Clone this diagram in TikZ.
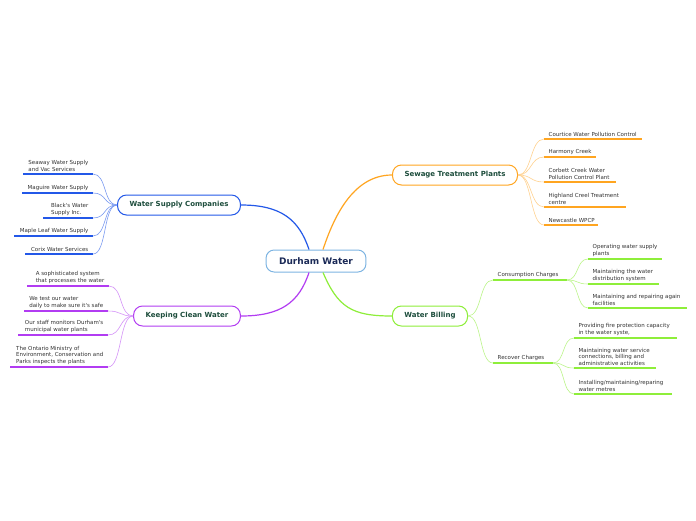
\documentclass[tikz,border=0pt]{standalone}
\usepackage{fontspec}
\newfontfamily\mapfont{DejaVu Sans}
\usepackage{tikz}

\definecolor{hubline}{HTML}{7DB4E2}
\definecolor{hubtext}{HTML}{1B2A57}
\definecolor{branchtext}{HTML}{1D4D3C}
\definecolor{leaftext}{HTML}{333333}
\definecolor{wscblue}{HTML}{2358E8}
\definecolor{stporange}{HTML}{FFA520}
\definecolor{kcwpurple}{HTML}{B23CF2}
\definecolor{wblime}{HTML}{8EEE3A}

\begin{document}
\begin{tikzpicture}[x=1pt, y=-1pt,
  every node/.style={font=\mapfont},
  hub/.style={draw=hubline, line width=1pt, rounded corners=8pt, fill=white,
    font=\mapfont\fontsize{9}{11}\selectfont\bfseries, text=hubtext,
    minimum height=22pt, inner xsep=13pt},
  branch/.style={draw=#1, line width=1pt, rounded corners=9pt, fill=white,
    font=\mapfont\fontsize{7}{9}\selectfont\bfseries, text=branchtext,
    minimum height=20pt, inner xsep=12pt},
  leaf/.style={font=\mapfont\fontsize{5.5}{6.8}\selectfont, text=leaftext,
    align=left, inner xsep=4.5pt, inner ysep=2pt},
  uline/.style={line width=1.8pt},
  twig/.style={line width=0.6pt},
  limb/.style={line width=1.2pt}]
  \useasboundingbox[fill=white] (0,0) rectangle (696,520);

  % Hub and branches
  \node[hub] (dw) at (316,261) {Durham Water};
  \node[branch=wscblue] (wsc) at (179,205) {Water Supply Companies};
  \node[branch=stporange] (stp) at (455,175) {Sewage Treatment Plants};
  \node[branch=kcwpurple] (kcw) at (187,316) {Keeping Clean Water};
  \node[branch=wblime] (wb) at (430,316) {Water Billing};

  \draw[limb, wscblue] ([xshift=-7pt]dw.north) .. controls +(-10,-30) and +(40,0) .. (wsc.east);
  \draw[limb, stporange] ([xshift=7pt]dw.north) .. controls +(10,-30) and +(-40,0) .. (stp.west);
  \draw[limb, kcwpurple] ([xshift=-7pt]dw.south) .. controls +(-10,30) and +(40,0) .. (kcw.east);
  \draw[limb, wblime] ([xshift=7pt]dw.south) .. controls +(15,35) and +(-40,0) .. (wb.west);

  % Water Supply Companies
  \node[leaf, anchor=south east] (ws1) at (93,174) {Seaway Water Supply\\ and Vac Services};
  \node[leaf, anchor=south east] (ws2) at (93,193) {Maguire Water Supply};
  \node[leaf, anchor=south east] (ws3) at (93,218) {Black's Water\\Supply Inc.};
  \node[leaf, anchor=south east] (ws4) at (93,236) {Maple Leaf Water Supply};
  \node[leaf, anchor=south east] (ws5) at (93,254) {Corix Water Services};
  \draw[uline, wscblue] (ws1.south east) -- ++(-70,0);
  \draw[uline, wscblue] (ws2.south east) -- ++(-71,0);
  \draw[uline, wscblue] (ws3.south east) -- ++(-50,0);
  \draw[uline, wscblue] (ws4.south east) -- ++(-79,0);
  \draw[uline, wscblue] (ws5.south east) -- ++(-68,0);
  \foreach \n in {ws1,ws2,ws3,ws4,ws5}
    \draw[twig, wscblue!60] (wsc.west) .. controls +(-14,0) and +(14,0) .. (\n.south east);

  % Keeping Clean Water
  \node[leaf, anchor=south east] (kc1) at (109,286) {A sophisticated system\\that processes the water};
  \node[leaf, anchor=south east] (kc2) at (108,311) {We test our water\\daily to make sure it's safe};
  \node[leaf, anchor=south east] (kc3) at (108,335) {Our staff monitors Durham's\\municipal water plants};
  \node[leaf, anchor=south east] (kc4) at (108,367) {The Ontario Ministry of\\Environment, Conservation and\\Parks inspects the plants};
  \draw[uline, kcwpurple] (kc1.south east) -- ++(-82,0);
  \draw[uline, kcwpurple] (kc2.south east) -- ++(-84,0);
  \draw[uline, kcwpurple] (kc3.south east) -- ++(-90,0);
  \draw[uline, kcwpurple] (kc4.south east) -- ++(-98,0);
  \foreach \n in {kc1,kc2,kc3,kc4}
    \draw[twig, kcwpurple!55] (kcw.west) .. controls +(-14,0) and +(14,0) .. (\n.south east);

  % Sewage Treatment Plants
  \node[leaf, anchor=south west] (sp1) at (544,139) {Courtice Water Pollution Control};
  \node[leaf, anchor=south west] (sp2) at (544,157) {Harmony Creek};
  \node[leaf, anchor=south west] (sp3) at (544,182) {Corbett Creek Water\\ Pollution Control Plant};
  \node[leaf, anchor=south west] (sp4) at (544,207) {Highland Creel Treatment\\centre};
  \node[leaf, anchor=south west] (sp5) at (544,225) {Newcastle WPCP};
  \draw[uline, stporange] (sp1.south west) -- ++(98,0);
  \draw[uline, stporange] (sp2.south west) -- ++(52,0);
  \draw[uline, stporange] (sp3.south west) -- ++(72,0);
  \draw[uline, stporange] (sp4.south west) -- ++(82,0);
  \draw[uline, stporange] (sp5.south west) -- ++(54,0);
  \foreach \n in {sp1,sp2,sp3,sp4,sp5}
    \draw[twig, stporange!50] (stp.east) .. controls +(14,0) and +(-14,0) .. (\n.south west);

  % Water Billing
  \node[leaf, anchor=south west] (cc) at (493,280) {Consumption Charges};
  \node[leaf, anchor=south west] (rc) at (493,363) {Recover Charges};
  \draw[uline, wblime] (cc.south west) -- ++(74,0) coordinate (cce);
  \draw[uline, wblime] (rc.south west) -- ++(60,0) coordinate (rce);
  \foreach \n in {cc,rc}
    \draw[twig, wblime!60] (wb.east) .. controls +(14,0) and +(-14,0) .. (\n.south west);

  \node[leaf, anchor=south west] (cc1) at (588,259) {Operating water supply\\ plants};
  \node[leaf, anchor=south west] (cc2) at (588,284) {Maintaining the water\\distribution system};
  \node[leaf, anchor=south west] (cc3) at (588,308) {Maintaining and repairing again\\facilities};
  \draw[uline, wblime] (cc1.south west) -- ++(74,0);
  \draw[uline, wblime] (cc2.south west) -- ++(71,0);
  \draw[uline, wblime] (cc3.south west) -- ++(99,0);
  \foreach \n in {cc1,cc2,cc3}
    \draw[twig, wblime!60] (cce) .. controls +(12,0) and +(-12,0) .. (\n.south west);

  \node[leaf, anchor=south west] (rc1) at (574,338) {Providing fire protection capacity\\in the water syste,};
  \node[leaf, anchor=south west] (rc2) at (574,368) {Maintaining water service\\connections, billing and\\administrative activities};
  \node[leaf, anchor=south west] (rc3) at (574,394) {Installing/maintaining/reparing\\water metres};
  \draw[uline, wblime] (rc1.south west) -- ++(103,0);
  \draw[uline, wblime] (rc2.south west) -- ++(82,0);
  \draw[uline, wblime] (rc3.south west) -- ++(98,0);
  \foreach \n in {rc1,rc2,rc3}
    \draw[twig, wblime!60] (rce) .. controls +(12,0) and +(-12,0) .. (\n.south west);
\end{tikzpicture}
\end{document}
